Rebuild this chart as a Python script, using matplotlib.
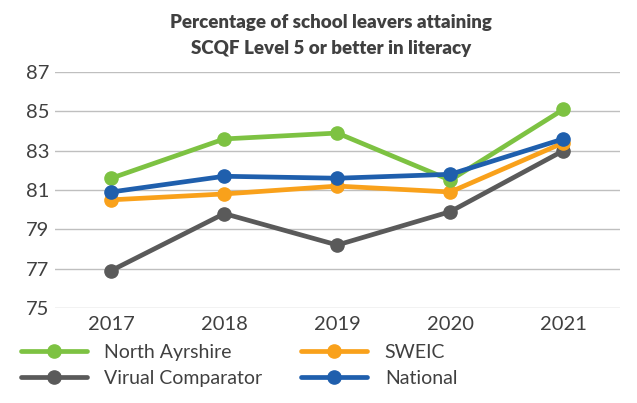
import matplotlib
matplotlib.use("Agg")
import matplotlib.pyplot as plt

years = ["2017", "2018", "2019", "2020", "2021"]
north_ayrshire = [81.6, 83.6, 83.9, 81.5, 85.1]
virtual_comparator = [76.9, 79.8, 78.2, 79.9, 83.0]
sweic = [80.5, 80.8, 81.2, 80.9, 83.4]
national = [80.9, 81.7, 81.6, 81.8, 83.6]
yticks = [75, 77, 79, 81, 83, 85, 87]

plt.rcParams['font.family'] = ['Lato', 'DejaVu Sans']

fig = plt.figure(figsize=(6.37, 4.03), dpi=100)
ax = fig.add_axes([0.086, 0.236, 0.887, 0.585])

x = list(range(len(years)))
series = [
    ("North Ayrshire", north_ayrshire, "#7dc242"),
    ("Virual Comparator", virtual_comparator, "#5a5a5a"),
    ("SWEIC", sweic, "#f9a11b"),
    ("National", national, "#1f5fad"),
]
handles = {}
for name, vals, col in [series[1], series[2], series[0], series[3]]:
    h, = ax.plot(x, vals, color=col, lw=3.4, marker='o', ms=9.5, label=name, solid_capstyle='round')
    handles[name] = h

ax.set_xlim(-0.5, len(years) - 0.5)
ax.set_ylim(75, 87)
ax.set_yticks(yticks)
ax.set_xticks(x)
ax.set_xticklabels(years)
ax.grid(axis='y', color='#bfbfbf', lw=1)
ax.set_axisbelow(True)
for s in ax.spines.values():
    s.set_visible(False)
ax.tick_params(length=0, labelsize=14.5, colors='#404040', pad=6)
ax.tick_params(axis='y', pad=4)

fig.text(0.52, 0.945, "Percentage of school leavers attaining", ha='center', va='center',
         fontsize=13.5, fontweight='heavy', color='#404040')
fig.text(0.52, 0.88, "SCQF Level 5 or better in literacy", ha='center', va='center',
         fontsize=13.5, fontweight='heavy', color='#404040')

order = ["North Ayrshire", "Virual Comparator", "SWEIC", "National"]
fig.legend([handles[n] for n in order], order, ncol=2, loc='upper left',
           bbox_to_anchor=(0.02, 0.165), frameon=False, fontsize=14,
           handlelength=3.4, columnspacing=2.0, labelspacing=0.45,
           handletextpad=0.9, borderaxespad=0, labelcolor='#404040')

fig.savefig("out.png", dpi=100, facecolor='white')
